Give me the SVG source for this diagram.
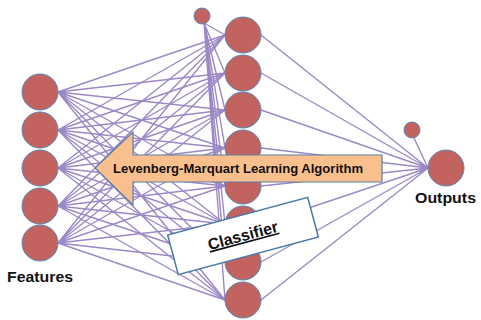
<svg xmlns="http://www.w3.org/2000/svg" width="481" height="320" viewBox="0 0 481 320">
<style>
.c{stroke:#9c88c6;stroke-width:1.4;fill:none}
.n{fill:#c3635f;stroke:#5b86b5;stroke-width:1}
.t{font-family:"Liberation Sans",Arial,sans-serif;font-weight:bold;fill:#111}
</style>
<rect width="481" height="320" fill="#fff"/>
<g id="connectors" class="c">
<path d="M58,92L225,35M58,92L225,73M58,92L225,110M58,92L225,148M58,92L225,186M58,92L225,224M58,92L225,262M58,92L225,300"/>
<path d="M58,130L225,35M58,130L225,73M58,130L225,110M58,130L225,148M58,130L225,186M58,130L225,224M58,130L225,262M58,130L225,300"/>
<path d="M58,168L225,35M58,168L225,73M58,168L225,110M58,168L225,148M58,168L225,186M58,168L225,224M58,168L225,262M58,168L225,300"/>
<path d="M58,206L225,35M58,206L225,73M58,206L225,110M58,206L225,148M58,206L225,186M58,206L225,224M58,206L225,262M58,206L225,300"/>
<path d="M58,243L225,35M58,243L225,73M58,243L225,110M58,243L225,148M58,243L225,186M58,243L225,224M58,243L225,262M58,243L225,300"/>
<path d="M204,23L225,35M204,23L225,73M204,23L225,110M204,23L225,148M204,23L225,186M204,23L225,224M204,23L225,262M204,23L225,300"/>
<path d="M261,35L428,168M261,73L428,168M261,110L428,168M261,148L428,168M261,186L428,168M261,224L428,168M261,262L428,168M261,300L428,168"/>
<path d="M414,138L428,168"/>
</g>
<g id="input1"><circle class="n" cx="40" cy="92" r="18"/></g>
<g id="input2"><circle class="n" cx="40" cy="130" r="18"/></g>
<g id="input3"><circle class="n" cx="40" cy="168" r="18"/></g>
<g id="input4"><circle class="n" cx="40" cy="206" r="18"/></g>
<g id="input5"><circle class="n" cx="40" cy="243" r="18"/></g>
<g id="bias1"><circle class="n" cx="202" cy="16" r="8"/></g>
<g id="hidden1"><circle class="n" cx="243" cy="35" r="18"/></g>
<g id="hidden2"><circle class="n" cx="243" cy="73" r="18"/></g>
<g id="hidden3"><circle class="n" cx="243" cy="110" r="18"/></g>
<g id="hidden4"><circle class="n" cx="243" cy="148" r="18"/></g>
<g id="hidden5"><circle class="n" cx="243" cy="186" r="18"/></g>
<g id="hidden6"><circle class="n" cx="243" cy="224" r="18"/></g>
<g id="hidden7"><circle class="n" cx="243" cy="262" r="18"/></g>
<g id="hidden8"><circle class="n" cx="243" cy="300" r="18"/></g>
<g id="bias2"><circle class="n" cx="412" cy="130" r="8"/></g>
<g id="output"><circle class="n" cx="446" cy="168" r="18"/></g>
<g id="features-label"><text class="t" x="7" y="282" font-size="15" textLength="66" lengthAdjust="spacingAndGlyphs">Features</text></g>
<g id="outputs-label"><text class="t" x="415" y="203" font-size="15" textLength="61" lengthAdjust="spacingAndGlyphs">Outputs</text></g>
<g id="arrow">
<polygon points="95,168 133,132 133,155 382,155 382,182 133,182 133,205" fill="#f9c08e" stroke="#5a7fa8" stroke-width="1.2"/>
<text class="t" x="113" y="173" font-size="12" textLength="250" lengthAdjust="spacingAndGlyphs">Levenberg-Marquart Learning Algorithm</text>
</g>
<g id="classifier" transform="translate(243,236) rotate(-15)">
<rect x="-72.5" y="-20.5" width="145" height="41" fill="#fff" stroke="#4a78a8" stroke-width="1.5"/>
<text class="t" x="0" y="5" font-size="16" text-anchor="middle" text-decoration="underline" textLength="72" lengthAdjust="spacingAndGlyphs">Classifier</text>
</g>
</svg>
